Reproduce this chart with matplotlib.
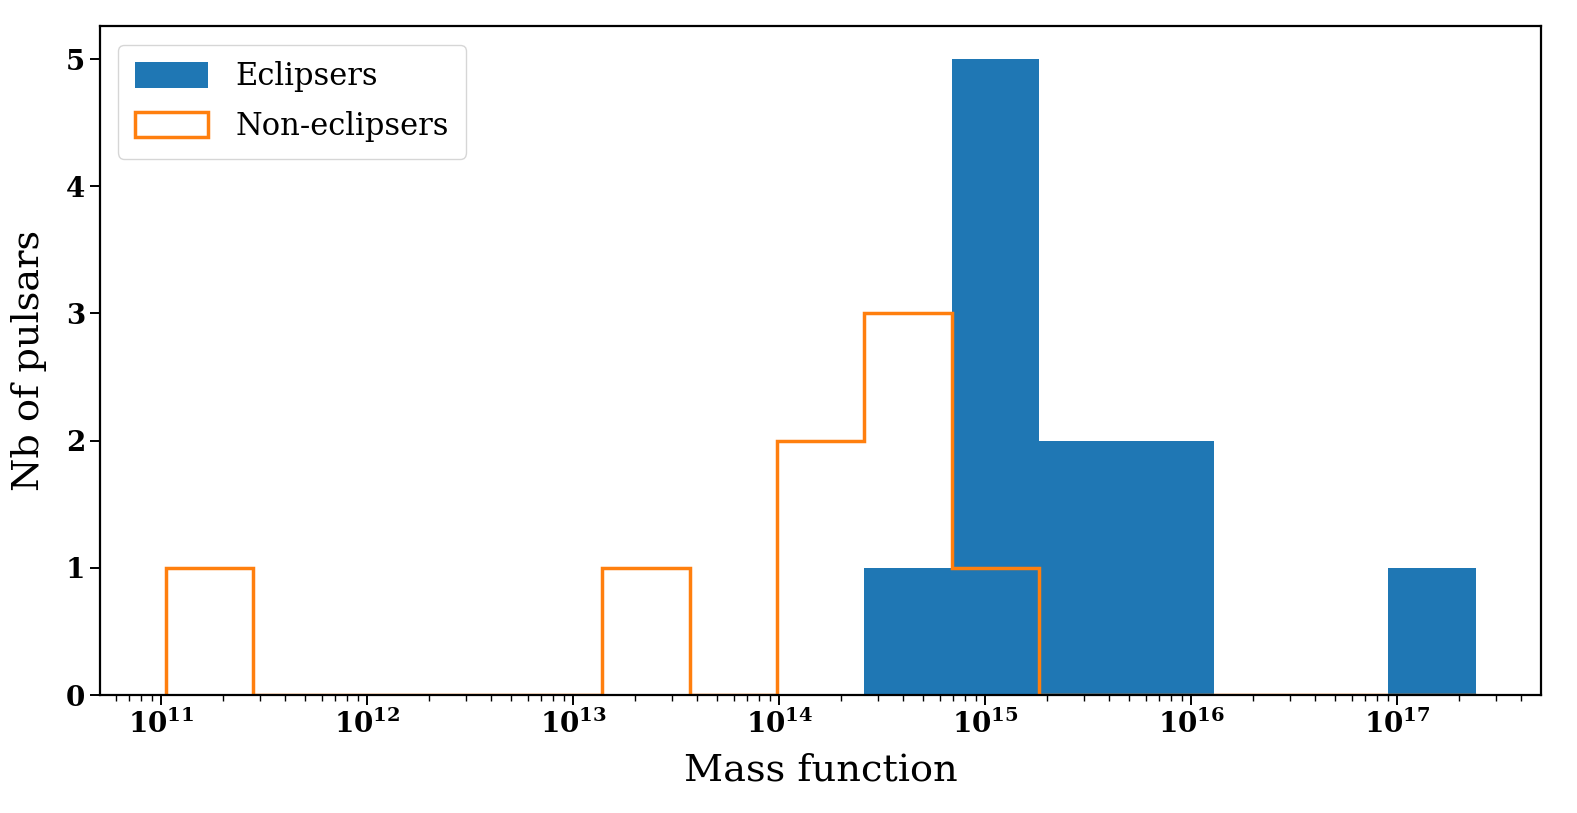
import numpy as np
import matplotlib
matplotlib.use('Agg')
import matplotlib.pyplot as plt
from matplotlib.ticker import LogLocator, FuncFormatter, NullFormatter

# log10 of the bin range (15 log-spaced bins)
log_min = 11.02
log_max = 17.38
n_bins = 15

eclipsers_counts = [0, 0, 0, 0, 0, 0, 0, 0, 1, 5, 2, 2, 0, 0, 1]
non_eclipsers_counts = [1, 0, 0, 0, 0, 1, 0, 2, 3, 1, 0, 0, 0, 0, 0]
x_tick_exponents = [11, 12, 13, 14, 15, 16, 17]

edges = np.logspace(log_min, log_max, n_bins + 1)
centers = np.sqrt(edges[:-1] * edges[1:])

plt.rcParams['font.family'] = 'DejaVu Serif'
plt.rcParams['mathtext.fontset'] = 'dejavuserif'

fig = plt.figure(figsize=(15.77, 8.13), dpi=100)
ax = fig.add_axes([100 / 1577, 1 - 695 / 813, 1441 / 1577, 669 / 813])

ax.hist(centers, bins=edges, weights=eclipsers_counts, color='#1f77b4', label='Eclipsers')
ax.hist(centers, bins=edges, weights=non_eclipsers_counts, histtype='step',
        color='#ff7f0e', linewidth=2.5, label='Non-eclipsers')

ax.set_xscale('log')
ax.set_xlim(10 ** (log_min - 0.318), 10 ** (log_max + 0.318))
ax.set_ylim(0, 5.26)
ax.set_xticks([10.0 ** e for e in x_tick_exponents])
ax.set_xticklabels([r'$\mathbf{10^{%d}}$' % e for e in x_tick_exponents])
ax.xaxis.set_minor_locator(LogLocator(base=10, subs=np.arange(2, 10), numticks=100))
ax.xaxis.set_minor_formatter(NullFormatter())
ax.set_yticks([0, 1, 2, 3, 4, 5])

for sp in ax.spines.values():
    sp.set_linewidth(1.6)
ax.tick_params(which='major', length=7, width=1.4, labelsize=20, direction='out')
ax.tick_params(which='minor', length=4, width=1.0, direction='out')
for lab in ax.get_yticklabels():
    lab.set_fontweight('bold')

ax.set_xlabel('Mass function', fontsize=27.5, labelpad=10)
ax.set_ylabel('Nb of pulsars', fontsize=27.5)
ax.yaxis.set_label_coords(-0.037, 0.5)
ax.legend(loc='upper left', fontsize=22, handlelength=2.4, handleheight=0.9,
          borderpad=0.55, labelspacing=0.6, handletextpad=0.9,
          bbox_to_anchor=(0.002, 0.995))

fig.savefig('out.png', dpi=100)
